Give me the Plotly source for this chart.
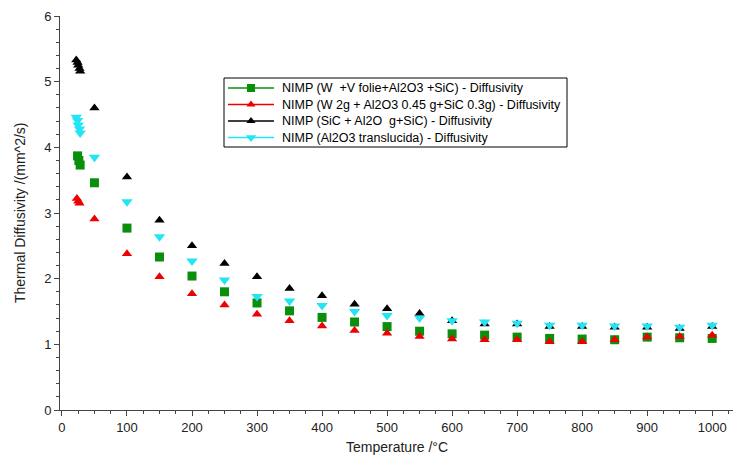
import plotly.graph_objects as go

# ---------------- data ----------------
temps = [50, 100, 150, 200, 250, 300, 350, 400, 450, 500,
         550, 600, 650, 700, 750, 800, 850, 900, 950, 1000]

green_rt_t = [24, 26, 28]
green_rt_y = [3.87, 3.80, 3.73]
green_y = [3.46, 2.77, 2.33, 2.04, 1.80, 1.63, 1.51, 1.41, 1.34, 1.27,
           1.20, 1.16, 1.14, 1.11, 1.09, 1.08, 1.07, 1.11, 1.10, 1.09]

red_rt_t = [23, 25, 27]
red_rt_y = [3.22, 3.18, 3.15]
red_y = [2.91, 2.38, 2.03, 1.77, 1.60, 1.46, 1.36, 1.28, 1.21, 1.17,
         1.12, 1.08, 1.07, 1.07, 1.04, 1.04, 1.07, 1.11, 1.12, 1.14]

black_rt_t = [22, 24, 25, 27, 28]
black_rt_y = [5.33, 5.29, 5.25, 5.20, 5.16]
black_y = [4.60, 3.55, 2.89, 2.50, 2.23, 2.03, 1.85, 1.74, 1.61, 1.54,
           1.47, 1.36, 1.31, 1.31, 1.27, 1.27, 1.26, 1.26, 1.24, 1.27]

cyan_rt_t = [22, 24, 25, 27, 28]
cyan_rt_y = [4.46, 4.41, 4.34, 4.28, 4.22]
cyan_y = [3.85, 3.17, 2.64, 2.27, 1.98, 1.73, 1.66, 1.59, 1.50, 1.44,
          1.40, 1.36, 1.34, 1.32, 1.29, 1.29, 1.28, 1.28, 1.26, 1.29]

names = [
    "NIMP (W\u00a0 +V folie+Al2O3 +SiC) - Diffusivity",
    "NIMP (W 2g + Al2O3 0.45 g+SiC 0.3g) - Diffusivity",
    "NIMP (SiC + Al2O\u00a0 g+SiC) - Diffusivity",
    "NIMP (Al2O3 translucida) - Diffusivity",
]

x_ticks = [0, 100, 200, 300, 400, 500, 600, 700, 800, 900, 1000]
y_ticks = [0, 1, 2, 3, 4, 5, 6]

# ---------------- styles ----------------
FONT = "Liberation Sans, Arial, sans-serif"
colors = ["#0a8f0a", "#ee0000", "#000000", "#22e4f5"]
symbols = ["square", "triangle-up", "triangle-up", "triangle-down"]
sizes = [9, 9, 9, 10]

series = [
    (green_rt_t + temps, green_rt_y + green_y),
    (red_rt_t + temps, red_rt_y + red_y),
    (black_rt_t + temps, black_rt_y + black_y),
    (cyan_rt_t + temps, cyan_rt_y + cyan_y),
]

fig = go.Figure()
for (xs, ys), c, s, sz, n in zip(series, colors, symbols, sizes, names):
    fig.add_trace(go.Scatter(
        x=xs, y=ys, mode="markers", name=n, showlegend=False,
        marker=dict(color=c, symbol=s, size=sz, line=dict(width=0)),
    ))

# ---------------- manual legend (pixel-based overlay axes) ----------------
L_LEFT, L_RIGHT, L_TOP, L_BOTTOM = 224, 567, 78, 147
row_y = [88, 104.5, 121, 137.5]
line_x0, line_x1, mark_x, text_x = 228, 274, 251, 280

fig.add_shape(type="rect", xref="x2", yref="y2",
              x0=L_LEFT, x1=L_RIGHT, y0=L_TOP, y1=L_BOTTOM,
              line=dict(color="#000000", width=1), fillcolor="rgba(0,0,0,0)",
              layer="above")

for ry, c, s, sz, n in zip(row_y, colors, symbols, sizes, names):
    fig.add_trace(go.Scatter(
        x=[line_x0, line_x1], y=[ry, ry], xaxis="x2", yaxis="y2",
        mode="lines", line=dict(color=c, width=1.5), showlegend=False,
        hoverinfo="skip"))
    fig.add_trace(go.Scatter(
        x=[mark_x], y=[ry], xaxis="x2", yaxis="y2", mode="markers",
        marker=dict(color=c, symbol=s, size=sz - 1), showlegend=False,
        hoverinfo="skip"))
    fig.add_annotation(x=text_x, y=ry, xref="x2", yref="y2", text=n,
                       showarrow=False, xanchor="left", yanchor="middle",
                       font=dict(family=FONT, size=12.5, color="#000000"))

# ---------------- axis titles ----------------
fig.add_annotation(text="Temperature /°C", x=0.5007, y=-0.094, xref="paper", yref="paper",
                   showarrow=False, xanchor="center", yanchor="middle",
                   font=dict(family=FONT, size=14, color="#222222"))
fig.add_annotation(text="Thermal Diffusivity /(mm^2/s)", x=-0.0594, y=0.5,
                   xref="paper", yref="paper", textangle=-90,
                   showarrow=False, xanchor="center", yanchor="middle",
                   font=dict(family=FONT, size=14, color="#222222"))

axis_common = dict(
    showgrid=False, zeroline=False, showline=True, linecolor="#444444", linewidth=1,
    ticks="outside", ticklen=5, tickcolor="#444444", tickwidth=1,
    tickfont=dict(family=FONT, size=13, color="#222222"),
)

fig.update_layout(
    width=734, height=459,
    margin=dict(l=60, r=1, t=16, b=49),
    paper_bgcolor="white", plot_bgcolor="white",
    showlegend=False,
    xaxis=dict(range=[-3, 1032], tickvals=x_ticks,
               minor=dict(dtick=25, tick0=0, ticks="outside", ticklen=3,
                          tickcolor="#444444"),
               **axis_common),
    yaxis=dict(range=[0, 6], tickvals=y_ticks,
               minor=dict(dtick=0.2, tick0=0, ticks="outside", ticklen=3,
                          tickcolor="#444444"),
               **axis_common),
    xaxis2=dict(overlaying="x", range=[60, 733], visible=False),
    yaxis2=dict(overlaying="y", range=[410, 16], visible=False),
)

fig.write_html("out.html")
